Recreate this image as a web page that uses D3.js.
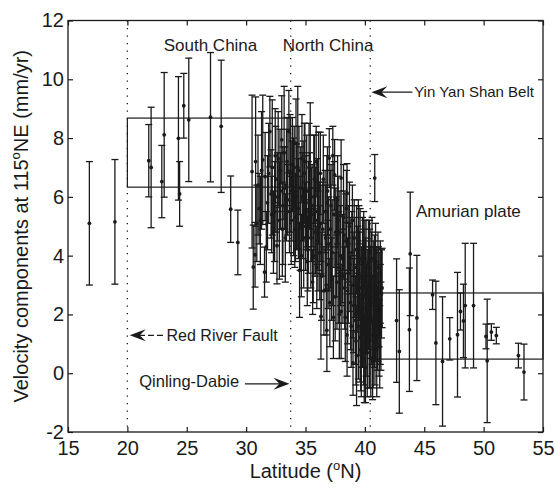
<!DOCTYPE html>
<html>
<head>
  <meta charset="utf-8">
  <script src="https://cdn.jsdelivr.net/npm/d3@7/dist/d3.min.js"></script>
  <style>
    body { margin: 0; background: #fff; font-family: "Liberation Sans", Arial, sans-serif; }
  </style>
</head>
<body>
  <main id="container"></main>
  <script>
    // sites as [latitude, velocity, sigma]
    const southSites = [
      [16.8, 5.1, 2.1], [18.95, 5.15, 2.12],
      [21.8, 7.23, 1.23], [22.0, 7.0, 2.05], [22.9, 6.52, 1.23], [23.1, 8.11, 2.12],
      [24.3, 7.99, 2.1], [24.4, 6.1, 1.1], [24.75, 9.1, 1.1], [25.17, 8.62, 2.1],
      [27.0, 8.71, 2.2], [27.9, 8.4, 2.25], [28.7, 5.58, 1.13], [29.3, 4.45, 1.1]
    ];

    const northSites = [
      [30.5, 6.86, 2.6], [30.6, 3.61, 1.43], [30.75, 4.03, 1.1], [30.8, 7.2, 2.2], [30.9, 5.1, 1.3],
      [31.0, 6.4, 1.7], [31.1, 5.6, 1.2], [31.2, 5.2, 1.5], [31.3, 6.9, 2.0], [31.4, 7.26, 2.2],
      [31.55, 3.44, 0.85], [31.6, 6.69, 1.5], [31.7, 4.3, 1.2], [31.8, 5.8, 1.6], [31.9, 6.8, 1.7],
      [32.0, 8.22, 1.2], [32.1, 6.1, 1.5], [32.15, 5.4, 1.3], [32.2, 7.0, 2.3], [32.3, 4.8, 1.4],
      [32.4, 5.5, 1.7], [32.45, 7.4, 1.6], [32.5, 6.6, 1.8], [32.6, 4.34, 1.3], [32.65, 6.0, 1.5],
      [32.7, 7.3, 1.6], [32.8, 5.2, 2.0], [32.85, 6.9, 1.4], [32.9, 6.2, 1.3], [33.0, 7.94, 1.5],
      [33.05, 4.9, 1.6], [33.1, 5.7, 2.0], [33.2, 7.5, 2.26], [33.25, 6.3, 1.4], [33.3, 4.6, 1.5],
      [33.4, 6.4, 1.9], [33.45, 7.2, 1.5], [33.5, 5.9, 1.2], [33.6, 8.22, 1.4], [33.65, 5.5, 1.4],
      [33.7, 6.8, 2.0], [33.8, 5.2, 1.5], [33.85, 6.2, 1.7], [33.9, 7.1, 1.6], [34.0, 6.0, 2.0],
      [34.05, 7.0, 1.4], [34.1, 4.9, 1.3], [34.15, 5.3, 1.5], [34.2, 7.83, 1.5], [34.25, 6.0, 1.8],
      [34.35, 7.0, 2.76], [34.4, 5.6, 1.7], [34.45, 6.9, 1.5], [34.5, 3.5, 1.6], [34.55, 5.1, 1.6],
      [34.6, 6.3, 1.4], [34.65, 4.0, 1.4], [34.7, 7.3, 1.5], [34.75, 6.0, 1.5], [34.8, 5.9, 2.0],
      [34.85, 4.6, 1.7], [34.9, 6.8, 1.7], [34.95, 7.2, 1.3], [35.0, 5.0, 1.5], [35.05, 5.8, 1.6],
      [35.1, 6.2, 1.9], [35.15, 3.8, 1.5], [35.2, 4.2, 1.4], [35.25, 5.3, 1.9], [35.3, 7.0, 1.5],
      [35.35, 6.2, 1.3], [35.4, 6.9, 2.3], [35.45, 4.6, 1.7], [35.5, 5.4, 1.6], [35.55, 5.7, 1.4],
      [35.6, 3.1, 1.1], [35.65, 4.0, 1.6], [35.7, 6.0, 2.1], [35.75, 6.6, 1.5], [35.8, 4.8, 1.5],
      [35.85, 5.2, 1.8], [35.9, 7.2, 1.2], [35.95, 3.6, 1.4], [36.0, 5.5, 1.8], [36.05, 4.5, 1.7],
      [36.1, 6.3, 1.9], [36.15, 5.0, 1.5], [36.2, 4.1, 1.6], [36.25, 6.8, 1.4], [36.3, 5.1, 1.3],
      [36.3, 1.93, 1.45], [36.35, 3.3, 1.5], [36.45, 4.9, 1.6], [36.5, 6.6, 1.5], [36.55, 2.8, 1.5],
      [36.65, 5.5, 1.4], [36.7, 4.6, 1.8], [36.75, 3.0, 1.7], [36.8, 5.8, 1.6], [36.8, 1.46, 1.4],
      [36.85, 6.2, 1.5], [36.9, 3.7, 1.5], [36.95, 4.4, 1.6], [37.0, 7.32, 1.0], [37.05, 2.4, 1.5],
      [37.1, 4.9, 2.0], [37.15, 5.7, 1.4], [37.2, 3.2, 1.4], [37.25, 4.1, 1.8], [37.3, 7.4, 1.0],
      [37.35, 1.9, 1.4], [37.4, 5.4, 1.8], [37.45, 6.75, 1.2], [37.5, 2.6, 1.5], [37.55, 4.8, 1.5],
      [37.6, 4.3, 1.7], [37.65, 3.1, 1.6], [37.7, 5.9, 1.5], [37.75, 5.2, 1.5], [37.8, 3.6, 1.9],
      [37.85, 2.0, 1.5], [37.9, 4.8, 1.4], [37.95, 4.0, 1.7], [38.0, 6.64, 1.3], [38.0, 2.1, 1.6],
      [38.1, 3.9, 1.5], [38.15, 3.3, 1.6], [38.2, 5.3, 1.8], [38.25, 4.7, 1.5], [38.3, 2.9, 1.4],
      [38.35, 1.9, 1.5], [38.4, 4.5, 1.6], [38.45, 5.6, 1.3], [38.5, 6.13, 1.0], [38.5, 1.3, 1.4],
      [38.55, 2.8, 1.8], [38.6, 3.4, 1.7], [38.65, 4.4, 1.3], [38.7, 5.0, 1.5], [38.75, 3.7, 1.6],
      [38.8, 2.4, 1.6], [38.85, 1.6, 1.4], [38.9, 4.1, 1.4], [38.95, 5.2, 1.2], [39.0, 0.35, 1.1],
      [39.0, 3.0, 1.8], [39.05, 2.3, 1.6], [39.1, 4.6, 1.3], [39.15, 3.6, 1.7], [39.2, 1.8, 1.5],
      [39.25, 1.1, 1.5], [39.3, 4.2, 1.5], [39.3, 0.6, 1.7], [39.35, 2.8, 1.4], [39.4, 3.5, 1.5],
      [39.45, 1.6, 1.8], [39.45, 4.8, 1.1], [39.5, 2.5, 1.9], [39.5, 4.5, 1.2], [39.55, 3.3, 1.5],
      [39.6, 1.2, 1.5], [39.6, 3.9, 1.7], [39.65, 0.8, 1.4], [39.7, 2.9, 1.4], [39.7, 0.4, 1.2],
      [39.75, 1.7, 1.5], [39.8, 4.0, 1.3], [39.8, 2.0, 1.8], [39.85, 2.6, 1.3], [39.9, 3.3, 1.6],
      [39.9, 1.0, 1.4], [39.9, 4.3, 1.2], [39.95, 0.5, 1.5], [40.0, 3.9, 1.3], [40.0, 2.6, 1.9],
      [40.05, 0.2, 1.2], [40.05, 3.0, 1.6], [40.1, 3.7, 1.5], [40.1, 1.6, 1.7], [40.15, 2.2, 1.5],
      [40.2, 2.9, 1.3], [40.2, 0.7, 1.5], [40.25, 1.2, 1.7], [40.3, 3.8, 1.4], [40.3, 2.2, 1.4],
      [40.35, 2.8, 1.5], [40.4, 1.3, 1.8], [40.4, 3.4, 1.5], [40.4, 4.1, 1.1], [40.45, 1.9, 1.4],
      [40.5, 0.5, 1.3], [40.5, 2.7, 1.6], [40.55, 3.3, 1.5], [40.6, 3.9, 1.4], [40.6, 1.8, 1.5],
      [40.65, 0.4, 1.3], [40.7, 2.4, 1.9], [40.7, 0.9, 1.4], [40.75, 2.9, 1.6], [40.8, 3.2, 1.5],
      [40.8, 1.5, 1.3], [40.85, 1.1, 1.5], [40.9, 2.1, 1.7], [40.9, 3.8, 1.3], [40.95, 2.6, 1.6],
      [41.0, 0.8, 1.6], [41.0, 2.9, 1.4], [41.05, 1.5, 1.4], [41.1, 1.9, 1.5], [41.1, 3.6, 1.2],
      [41.15, 2.8, 1.5], [41.2, 2.5, 1.6], [41.2, 1.2, 1.3], [41.25, 0.9, 1.4], [41.3, 3.1, 1.4],
      [41.3, 2.0, 1.7], [41.35, 1.6, 1.5], [41.4, 2.7, 1.5], [41.45, 2.9, 1.35],
      [40.83, 6.64, 0.8]
    ];

    const amurSites = [
      [42.67, 1.79, 2.1], [42.9, 0.74, 2.1], [43.82, 4.06, 2.1], [43.75, 1.48, 2.1],
      [44.38, 1.88, 2.13], [45.7, 2.67, 0.5], [45.98, 1.03, 2.1], [46.54, 0.4, 2.2],
      [47.15, 1.17, 0.72], [47.8, 1.31, 2.12], [48.05, 2.1, 0.63], [48.3, 1.78, 1.25],
      [48.45, 2.3, 2.12], [49.15, 2.3, 2.12], [50.2, 1.25, 0.42], [50.3, 0.42, 2.1],
      [50.65, 1.4, 0.28], [51.07, 1.28, 0.28], [52.93, 0.6, 0.42], [53.4, 0.04, 0.95]
    ];

    // mean-velocity boxes: [lat from, lat to, low, high]
    const blocks = [[20, 33.75, 6.33, 8.68], [40.45, 55, 0.48, 2.73]];
    const boundaries = [20, 33.75, 40.45];

    const xTicks = [15, 20, 25, 30, 35, 40, 45, 50, 55];
    const yTicks = [-2, 0, 2, 4, 6, 8, 10, 12];

    const width = 555, height = 489;
    const ink = "#1a1a1a";

    const svg = d3.select("#container").append("svg")
      .attr("width", width).attr("height", height)
      .style("font-family", '"Liberation Sans", Arial, sans-serif');

    const x = d3.scaleLinear().domain([15, 55]).range([68, 543]);
    const y = d3.scaleLinear().domain([-2, 12]).range([432, 20.5]);

    // boxes
    svg.append("g").selectAll("rect").data(blocks).join("rect")
      .attr("x", d => x(d[0])).attr("width", d => x(d[1]) - x(d[0]))
      .attr("y", d => y(d[3])).attr("height", d => y(d[2]) - y(d[3]))
      .attr("fill", "none").attr("stroke", ink).attr("stroke-width", 1.2);

    // dotted boundaries
    svg.append("g").selectAll("line").data(boundaries).join("line")
      .attr("x1", d => x(d)).attr("x2", d => x(d))
      .attr("y1", y(12)).attr("y2", y(-2))
      .attr("stroke", ink).attr("stroke-width", 1.3).attr("stroke-dasharray", "1.3,6.2");

    // error bars
    const sites = southSites.concat(northSites, amurSites);
    const cap = 3.5;
    const bars = svg.append("g").attr("stroke", ink).attr("stroke-width", 1.3);
    bars.selectAll(".stem").data(sites).join("line").attr("class", "stem")
      .attr("x1", d => x(d[0])).attr("x2", d => x(d[0]))
      .attr("y1", d => y(d[1] - d[2])).attr("y2", d => y(d[1] + d[2]));
    bars.selectAll(".top").data(sites).join("line").attr("class", "top")
      .attr("x1", d => x(d[0]) - cap).attr("x2", d => x(d[0]) + cap)
      .attr("y1", d => y(d[1] + d[2])).attr("y2", d => y(d[1] + d[2]));
    bars.selectAll(".bot").data(sites).join("line").attr("class", "bot")
      .attr("x1", d => x(d[0]) - cap).attr("x2", d => x(d[0]) + cap)
      .attr("y1", d => y(d[1] - d[2])).attr("y2", d => y(d[1] - d[2]));
    svg.append("g").selectAll("circle").data(sites).join("circle")
      .attr("cx", d => x(d[0])).attr("cy", d => y(d[1])).attr("r", 1.9)
      .attr("fill", ink);

    // axes with inward ticks on all four sides
    const styleAxis = g => {
      g.select(".domain").remove();
      g.selectAll(".tick line").attr("stroke", ink).attr("stroke-width", 1.2);
      g.selectAll(".tick text").attr("fill", ink).style("font-size", "20px");
    };
    const plain = d => String(d);
    svg.append("g").attr("transform", `translate(0,${y(-2)})`)
      .call(d3.axisBottom(x).tickValues(xTicks).tickFormat(plain).tickSizeInner(-5).tickSizeOuter(0).tickPadding(9))
      .call(styleAxis);
    svg.append("g").attr("transform", `translate(0,${y(12)})`)
      .call(d3.axisTop(x).tickValues(xTicks).tickSizeInner(-5).tickSizeOuter(0).tickFormat(""))
      .call(styleAxis);
    svg.append("g").attr("transform", `translate(${x(15)},0)`)
      .call(d3.axisLeft(y).tickValues(yTicks).tickFormat(plain).tickSizeInner(-5).tickSizeOuter(0).tickPadding(4))
      .call(styleAxis);
    svg.append("g").attr("transform", `translate(${x(55)},0)`)
      .call(d3.axisRight(y).tickValues(yTicks).tickSizeInner(-5).tickSizeOuter(0).tickFormat(""))
      .call(styleAxis);

    svg.append("rect")
      .attr("x", x(15)).attr("y", y(12))
      .attr("width", x(55) - x(15)).attr("height", y(-2) - y(12))
      .attr("fill", "none").attr("stroke", ink).attr("stroke-width", 1.3);

    // axis titles
    const xt = svg.append("text").attr("x", (x(15) + x(55)) / 2).attr("y", 478)
      .attr("text-anchor", "middle").attr("fill", ink).style("font-size", "20px");
    xt.append("tspan").text("Latitude (");
    xt.append("tspan").text("o").style("font-size", "13px").attr("dy", -8);
    xt.append("tspan").text("N)").attr("dy", 8);

    const yt = svg.append("text")
      .attr("transform", `translate(28,${(y(-2) + y(12)) / 2}) rotate(-90)`)
      .attr("text-anchor", "middle").attr("fill", ink).style("font-size", "20px");
    yt.append("tspan").text("Velocity components at 115");
    yt.append("tspan").text("o").style("font-size", "13px").attr("dy", -8);
    yt.append("tspan").text("NE (mm/yr)").attr("dy", 8);

    // annotations
    const notes = [
      { t: "South China", lat: 27, v: 10.97, size: 17, anchor: "middle" },
      { t: "North China", lat: 36.9, v: 10.97, size: 17, anchor: "middle" },
      { t: "Yin Yan Shan Belt", lat: 44.15, v: 9.4, size: 15, anchor: "start" },
      { t: "Amurian plate", lat: 44.3, v: 5.33, size: 17, anchor: "start" },
      { t: "Red River Fault", lat: 23.3, v: 1.08, size: 16, anchor: "start" },
      { t: "Qinling-Dabie", lat: 21.0, v: -0.48, size: 16.5, anchor: "start" }
    ];
    svg.append("g").selectAll("text").data(notes).join("text")
      .attr("x", d => x(d.lat)).attr("y", d => y(d.v))
      .attr("text-anchor", d => d.anchor).attr("fill", ink)
      .style("font-size", d => d.size + "px").text(d => d.t);

    // arrows: [tail lat, tip lat, velocity, dashed]
    const arrows = [[44.0, 40.55, 9.56, false], [23.0, 20.2, 1.29, true], [29.9, 33.65, -0.36, false]];
    const ag = svg.append("g");
    arrows.forEach(([from, to, v, dashed]) => {
      const x0 = x(from), x1 = x(to), yy = y(v);
      const dir = Math.sign(x0 - x1);
      ag.append("line")
        .attr("x1", x0).attr("x2", x1 + dir * 8).attr("y1", yy).attr("y2", yy)
        .attr("stroke", ink).attr("stroke-width", 1.3)
        .attr("stroke-dasharray", dashed ? "6,3" : null);
      ag.append("path")
        .attr("d", `M${x1},${yy} L${x1 + dir * 16},${yy - 6} L${x1 + dir * 10},${yy} L${x1 + dir * 16},${yy + 6} Z`)
        .attr("fill", ink);
    });
  </script>
</body>
</html>
